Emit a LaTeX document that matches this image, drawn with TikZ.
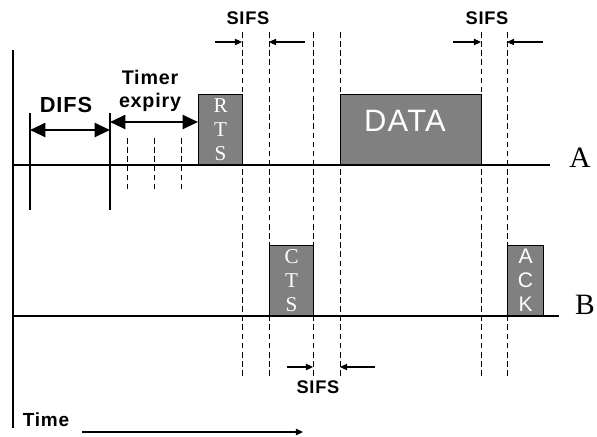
\documentclass[tikz,border=0pt]{standalone}
\usepackage{fontspec}
\setmainfont{Liberation Serif}
\setsansfont{Liberation Sans}
\newfontfamily\tagfont[LetterSpace=4]{Liberation Sans}
\usetikzlibrary{arrows.meta}
\definecolor{slotgray}{HTML}{808080}
\tikzset{
  axis/.style={draw=black,line width=1pt},
  guide/.style={draw=black,line width=0.7pt,dash pattern=on 4pt off 2.5pt},
  tick/.style={draw=black,line width=0.8pt},
  span/.style={draw=black,line width=1.6pt,
    {Triangle[length=11pt,width=10pt]}-{Triangle[length=11pt,width=10pt]}},
  gap/.style={draw=black,line width=0.8pt,-{Triangle[length=5pt,width=4.5pt]}},
  frame/.style={draw=black,fill=slotgray,line width=0.8pt,anchor=south west,
    inner sep=0pt,minimum height=1.75cm,text=white,align=center,
    font=\fontsize{15}{17}\selectfont},
  tag/.style={font=\tagfont\bfseries\fontsize{13}{15}\selectfont},
  station/.style={font=\fontsize{21}{21}\selectfont}
}

\begin{document}
\begin{tikzpicture}[x=0.025cm,y=-0.025cm]
  \useasboundingbox (0,0) rectangle (597,436);
  % time lines
  \coordinate (top) at (13,50);
  \coordinate (bottom) at (13,428);
  \coordinate (a0) at (13,165);
  \coordinate (a1) at (550,165);
  \coordinate (b0) at (13,316);
  \coordinate (b1) at (559,316);
  \draw[axis] (top) -- (bottom);
  \draw[axis] (a0) -- (a1);
  \draw[axis] (b0) -- (b1);
  \node[station] (sta) at (580,158) {A};
  \node[station] (stb) at (585,305) {B};
  % frames
  \node[frame,minimum width=1.1cm] (rts) at (198,165) {R\\T\\S};
  \node[frame,minimum width=3.525cm] (data) at (340,165) {};
  \node[font=\tagfont\fontsize{22}{22}\selectfont,text=white] (datatext) at (405,121) {DATA};
  \node[frame,minimum width=1.1cm] (cts) at (269,316) {C\\T\\S};
  \node[frame,minimum width=0.9cm,font=\sffamily\fontsize{15}{17}\selectfont] (ack) at (507,316) {A\\C\\K};
  % slot boundaries
  \foreach \x [count=\i] in {242,269,313,340,481,507} {
    \coordinate (top\i) at (\x,32);
    \coordinate (bot\i) at (\x,376);
    \draw[guide] (top\i) -- (bot\i);
  }
  \foreach \x in {127,154,181}
    \draw[guide] (\x,138) -- (\x,192);
  % DIFS and backoff
  \coordinate (d0) at (30,113);
  \coordinate (d1) at (110,113);
  \draw[tick] (d0) -- ++(0,97);
  \draw[tick] (d1) -- ++(0,97);
  \coordinate (difsl) at (30,130);
  \coordinate (difsr) at (110,130);
  \draw[span] (difsl) -- (difsr);
  \node[tag,font=\tagfont\bfseries\fontsize{15.5}{17}\selectfont] (difs) at (66,105) {DIFS};
  \coordinate (timer) at (110,122);
  \draw[span] (timer) -- (timer -| rts.west);
  \node[tag,align=center,font=\tagfont\bfseries\fontsize{14}{16.5}\selectfont] (expiry) at (150,91) {Timer\\expiry};
  % SIFS gaps
  \coordinate (s1l) at (215,42);
  \coordinate (s1r) at (305,42);
  \draw[gap] (s1l) -- (s1l -| top1);
  \draw[gap] (s1r) -- (s1r -| top2);
  \node[tag] (sifs1) at (248,18) {SIFS};
  \coordinate (s2l) at (453,42);
  \coordinate (s2r) at (543,42);
  \draw[gap] (s2l) -- (s2l -| top5);
  \draw[gap] (s2r) -- (s2r -| top6);
  \node[tag] (sifs2) at (487,18) {SIFS};
  \coordinate (s3l) at (287,367);
  \coordinate (s3r) at (375,367);
  \draw[gap] (s3l) -- (s3l -| top3);
  \draw[gap] (s3r) -- (s3r -| top4);
  \node[tag] (sifs3) at (318,387) {SIFS};
  % time direction
  \node[tag,font=\tagfont\bfseries\fontsize{13.5}{15}\selectfont] (time) at (46,420) {Time};
  \coordinate (t0) at (82,432);
  \coordinate (t1) at (303,432);
  \draw[gap] (t0) -- (t1);
\end{tikzpicture}
\end{document}
